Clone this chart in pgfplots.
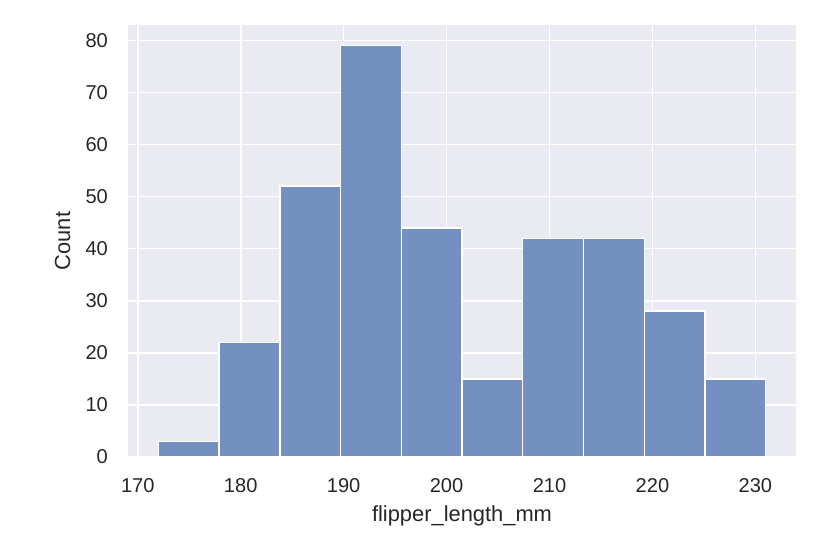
\documentclass[border=0pt]{standalone}
\usepackage{pgfplots}
\pgfplotsset{compat=1.18}
\usepackage{fontspec}
\setmainfont{Liberation Sans}
\definecolor{sbbg}{RGB}{234,234,242}
\definecolor{sbbar}{RGB}{116,144,192}
\definecolor{sbtext}{RGB}{38,38,38}
\begin{document}
\begin{tikzpicture}
\path[use as bounding box] (-70.2pt,-49.9pt) rectangle (390.6pt,250.7pt);
\begin{axis}[
  at={(0,0)}, anchor=south west,
  width=366.5pt, height=237pt, scale only axis,
  xmin=169.05, xmax=233.95, ymin=0, ymax=82.95,
  xtick={170,180,...,230}, ytick={0,10,...,80},
  axis line style={draw=none},
  axis background/.style={fill=sbbg},
  grid=major, major grid style={white, line width=0.9pt},
  major tick length=0pt,
  tick label style={font=\fontsize{11}{13}\selectfont, text=sbtext},
  /pgf/number format/assume math mode=true,
  label style={font=\fontsize{12}{14}\selectfont, text=sbtext},
  xlabel={flipper\_length\_mm}, ylabel={Count},
  xticklabel style={yshift=-8pt},
  yticklabel style={xshift=-7.5pt},
  xlabel style={yshift=-0.5pt},
  ylabel style={yshift=1.5pt},
]
\addplot[ybar interval, fill=sbbar, draw=white, line width=0.8pt] coordinates {
(172,3) (177.9,22) (183.8,52) (189.7,79) (195.6,44) (201.5,15)
(207.4,42) (213.3,42) (219.2,28) (225.1,15) (231,15)};
\end{axis}
\end{tikzpicture}
\end{document}
